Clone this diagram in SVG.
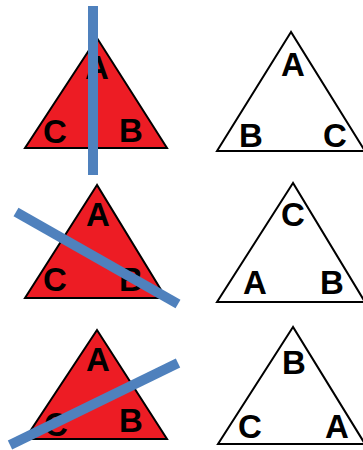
<svg xmlns="http://www.w3.org/2000/svg" width="363" height="450" viewBox="0 0 363 450">
<style>
.red{fill:#ed1c24;stroke:#000;stroke-width:2;stroke-linejoin:miter}
.wht{fill:#fff;stroke:#000;stroke-width:2}
.lbl{font-family:"Liberation Sans",Arial,sans-serif;font-weight:bold;font-size:33px;fill:#000;text-anchor:middle}
.bar{stroke:#4f81bd;stroke-width:10;fill:none}
</style>
<rect width="363" height="450" fill="#fff"/>
<g id="t1">
<polygon class="red" points="97,38 25,148 167,148"/>
<text class="lbl" x="97" y="79">A</text>
<text class="lbl" x="55" y="143">C</text>
<text class="lbl" x="131" y="142">B</text>
</g>
<g id="t2">
<polygon class="wht" points="291,32 217,151 365,151"/>
<text class="lbl" x="293" y="76">A</text>
<text class="lbl" x="251" y="147">B</text>
<text class="lbl" x="335" y="147">C</text>
</g>
<g id="t3">
<polygon class="red" points="97,185 25,298 166,298"/>
<text class="lbl" x="98" y="226">A</text>
<text class="lbl" x="55" y="291">C</text>
<text class="lbl" x="131" y="291">B</text>
</g>
<g id="t4">
<polygon class="wht" points="293,183 217,302 365,302"/>
<text class="lbl" x="293" y="226">C</text>
<text class="lbl" x="255" y="294">A</text>
<text class="lbl" x="332" y="294">B</text>
</g>
<g id="t5">
<polygon class="red" points="97,330 25,439 167,439"/>
<text class="lbl" x="98" y="371">A</text>
<text class="lbl" x="56" y="436">C</text>
<text class="lbl" x="131" y="432">B</text>
</g>
<g id="t6">
<polygon class="wht" points="293,327 218,444 365,444"/>
<text class="lbl" x="294" y="374">B</text>
<text class="lbl" x="250" y="438">C</text>
<text class="lbl" x="337" y="438">A</text>
</g>
<g id="connectors">
<line class="bar" x1="93" y1="6" x2="93" y2="175"/>
<line class="bar" x1="16" y1="212" x2="178" y2="304"/>
<line class="bar" x1="10" y1="445" x2="178" y2="363"/>
</g>
</svg>
